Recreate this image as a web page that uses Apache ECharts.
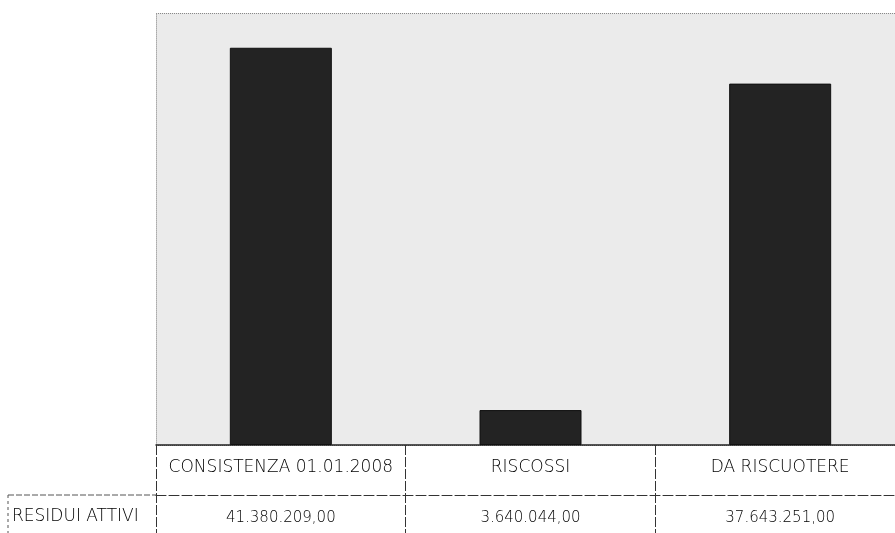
<!DOCTYPE html>
<html>
<head>
<meta charset="utf-8">
<script src="https://cdn.jsdelivr.net/npm/echarts@6/dist/echarts.min.js"></script>
<style>
  html, body { margin: 0; padding: 0; background: #fff; overflow: hidden; }
  #chart { width: 905px; height: 533px; }
</style>
</head>
<body>
<div id="chart"></div>
<script>
// Residui attivi: consistenza iniziale, riscossi, da riscuotere
const categories = ['CONSISTENZA 01.01.2008', 'RISCOSSI', 'DA RISCUOTERE'];
const seriesName = 'RESIDUI ATTIVI';
const values = [41380209.00, 3640044.00, 37643251.00];
const yMax = 45000000;

// Italian number format: 41.380.209,00
function fmtIt(v) {
  const parts = v.toFixed(2).split('.');
  const intPart = parts[0].replace(/\B(?=(\d{3})+(?!\d))/g, '.');
  return intPart + ',' + parts[1];
}

const FONT = '"DejaVu Sans", sans-serif';
const FW = 200;
const chart = echarts.init(document.getElementById('chart'), null, { renderer: 'canvas' });

chart.setOption({
  animation: false,
  backgroundColor: '#ffffff',
  grid: {
    left: 156, right: 0, top: 13, bottom: 88,
    show: true, backgroundColor: '#ebebeb', borderWidth: 0
  },
  xAxis: [
    {
      type: 'category',
      data: categories,
      position: 'bottom',
      axisLine: { show: true, lineStyle: { color: '#222', width: 1.5 } },
      axisTick: { show: true, alignWithLabel: false, length: 88, lineStyle: { color: '#333', width: 1, type: [10, 2] } },
      axisLabel: { color: '#000', fontFamily: FONT, fontWeight: FW, fontSize: 17, margin: 14, interval: 0 }
    },
    {
      type: 'category',
      data: categories,
      position: 'bottom',
      offset: 50,
      axisLine: { show: true, lineStyle: { color: '#333', width: 1, type: [10, 3] } },
      axisTick: { show: false },
      axisLabel: {
        color: '#000', fontFamily: FONT, fontWeight: FW, fontSize: 15, margin: 16, interval: 0,
        formatter: function (val, idx) { return fmtIt(values[idx]); }
      }
    }
  ],
  yAxis: {
    type: 'value',
    min: 0, max: yMax, interval: yMax,
    axisLine: { show: true, lineStyle: { color: '#aaa', type: 'dotted' } },
    axisTick: { show: false },
    axisLabel: { show: false },
    splitLine: { show: true, lineStyle: { color: '#888', type: 'dotted' } }
  },
  series: [{
    name: seriesName,
    type: 'bar',
    xAxisIndex: 0,
    data: values,
    barWidth: 102,
    itemStyle: { color: '#232323', borderColor: '#111', borderWidth: 1 }
  }],
  graphic: [
    // left header cell outline for the data row
    { type: 'line', shape: { x1: 8, y1: 495, x2: 156, y2: 495 }, style: { stroke: '#555', lineWidth: 1, lineDash: [6, 2] } },
    { type: 'line', shape: { x1: 8, y1: 495, x2: 8, y2: 533 }, style: { stroke: '#555', lineWidth: 1, lineDash: [3, 3] } },
    { type: 'text', left: 12, top: 508, style: { text: seriesName, font: '200 17px ' + FONT, fill: '#000' } }
  ]
});
</script>
</body>
</html>
